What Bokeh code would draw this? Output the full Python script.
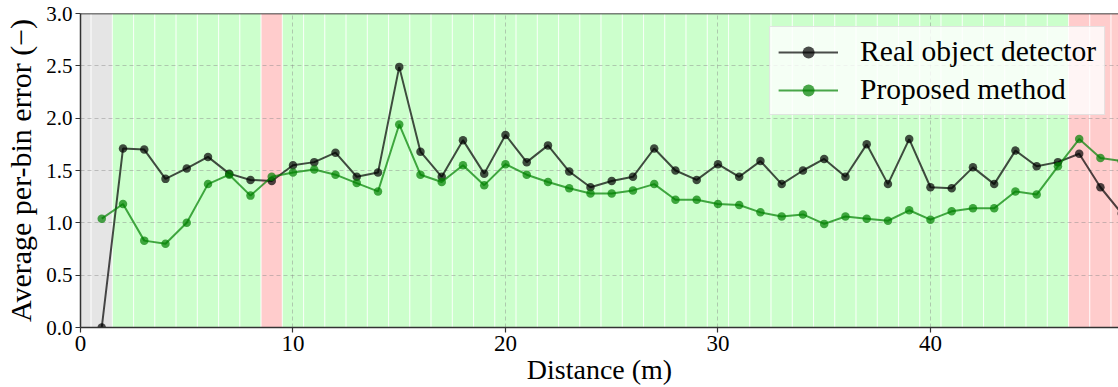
from bokeh.plotting import figure
from bokeh.models import Span, FixedTicker, NumeralTickFormatter, Range1d
from bokeh.embed import file_html
from bokeh.resources import INLINE

# ---------------- data ----------------
distance = list(range(1, 50))
real_detector = [0.00, 1.71, 1.70, 1.42, 1.52, 1.63, 1.47, 1.41, 1.40, 1.55,
                 1.58, 1.67, 1.44, 1.48, 2.49, 1.68, 1.44, 1.79, 1.47, 1.84,
                 1.58, 1.74, 1.49, 1.34, 1.40, 1.44, 1.71, 1.50, 1.41, 1.56,
                 1.44, 1.59, 1.37, 1.50, 1.61, 1.44, 1.75, 1.37, 1.80, 1.34,
                 1.33, 1.53, 1.37, 1.69, 1.54, 1.58, 1.66, 1.34, 1.09]
proposed = [1.04, 1.18, 0.83, 0.80, 1.00, 1.37, 1.46, 1.26, 1.44, 1.48,
            1.51, 1.46, 1.38, 1.30, 1.94, 1.46, 1.39, 1.55, 1.36, 1.56,
            1.46, 1.39, 1.33, 1.28, 1.28, 1.31, 1.37, 1.22, 1.22, 1.18,
            1.17, 1.10, 1.06, 1.08, 0.99, 1.06, 1.04, 1.02, 1.12, 1.03,
            1.11, 1.14, 1.14, 1.30, 1.27, 1.54, 1.80, 1.62, 1.59]

bin_centers = list(range(0, 50))
bin_status = ["none", "none",
              "good", "good", "good", "good", "good", "good", "good",
              "bad",
              "good", "good", "good", "good", "good", "good", "good", "good", "good", "good",
              "good", "good", "good", "good", "good", "good", "good", "good", "good", "good",
              "good", "good", "good", "good", "good", "good", "good", "good", "good", "good",
              "good", "good", "good", "good", "good", "good", "good",
              "bad", "bad", "bad"]
status_colors = {"none": "#e5e5e5", "good": "#ccffcc", "bad": "#ffcccc"}

x_ticks = [0, 10, 20, 30, 40]
y_ticks = [0.0, 0.5, 1.0, 1.5, 2.0, 2.5, 3.0]
series_labels = ["Real object detector", "Proposed method"]
y_label = "Average per-bin error (\u2212)"
x_label = "Distance (m)"

FONT = "Liberation Serif"

p = figure(width=1118, height=387, output_backend="svg", toolbar_location=None,
           x_range=Range1d(0, 48.85), y_range=Range1d(0, 3),
           min_border_left=80, min_border_right=0, min_border_top=13, min_border_bottom=60)
p.outline_line_color = None
p.background_fill_color = "white"

# background bins
p.vbar(x=bin_centers, width=1, bottom=-1, top=4,
       fill_color=[status_colors[s] for s in bin_status],
       line_color="white", line_width=1, line_alpha=0.7, level="image")

# series
p.line(distance, real_detector, line_color="black", line_alpha=0.7, line_width=2,
       legend_label=series_labels[0])
p.scatter(distance, real_detector, size=8.5, fill_color="black", line_color="black",
          fill_alpha=0.7, line_alpha=0.0, legend_label=series_labels[0])
p.line(distance, proposed, line_color="#008000", line_alpha=0.7, line_width=2,
       legend_label=series_labels[1])
p.scatter(distance, proposed, size=8.5, fill_color="#008000", line_color="#008000",
          fill_alpha=0.7, line_alpha=0.0, legend_label=series_labels[1])

# top border
p.add_layout(Span(location=3, dimension="width", line_color="black", line_width=1.5))

# axes
p.xaxis.ticker = FixedTicker(ticks=x_ticks)
p.yaxis.ticker = FixedTicker(ticks=y_ticks)
p.yaxis.formatter = NumeralTickFormatter(format="0.0")
for ax in (p.xaxis, p.yaxis):
    ax.axis_line_color = "#333333"
    ax.axis_line_width = 1.5
    ax.major_tick_line_color = "#333333"
    ax.major_tick_line_width = 1.2
    ax.major_tick_out = 5
    ax.major_tick_in = 0
    ax.minor_tick_line_color = None
    ax.major_label_text_font = FONT
    ax.major_label_text_color = "black"
    ax.major_label_standoff = 3
    ax.axis_label_text_font = FONT
    ax.axis_label_text_font_style = "normal"
    ax.axis_label_text_color = "black"
p.xaxis.major_label_text_font_size = "23px"
p.yaxis.major_label_text_font_size = "21px"
p.yaxis.axis_label = y_label
p.yaxis.axis_label_text_font_size = "30px"
p.yaxis.axis_label_standoff = 6
p.xaxis.axis_label = x_label
p.xaxis.axis_label_text_font_size = "28px"
p.xaxis.axis_label_standoff = 0

# grid
for g in (p.xgrid, p.ygrid):
    g.grid_line_color = "#888888"
    g.grid_line_alpha = 0.45
    g.grid_line_dash = "4 3"
    g.grid_line_width = 1

# legend
lg = p.legend[0]
lg.location = "top_right"
lg.margin = 13
lg.label_text_font = FONT
lg.label_text_font_size = "29.5px"
lg.label_text_color = "black"
lg.glyph_width = 60
lg.glyph_height = 30
lg.label_height = 30
lg.spacing = 5
lg.padding = 8
lg.label_standoff = 22
lg.background_fill_color = "white"
lg.background_fill_alpha = 0.8
lg.border_line_color = "#cccccc"
lg.border_line_width = 1

open("out.html", "w").write(file_html(p, INLINE))
